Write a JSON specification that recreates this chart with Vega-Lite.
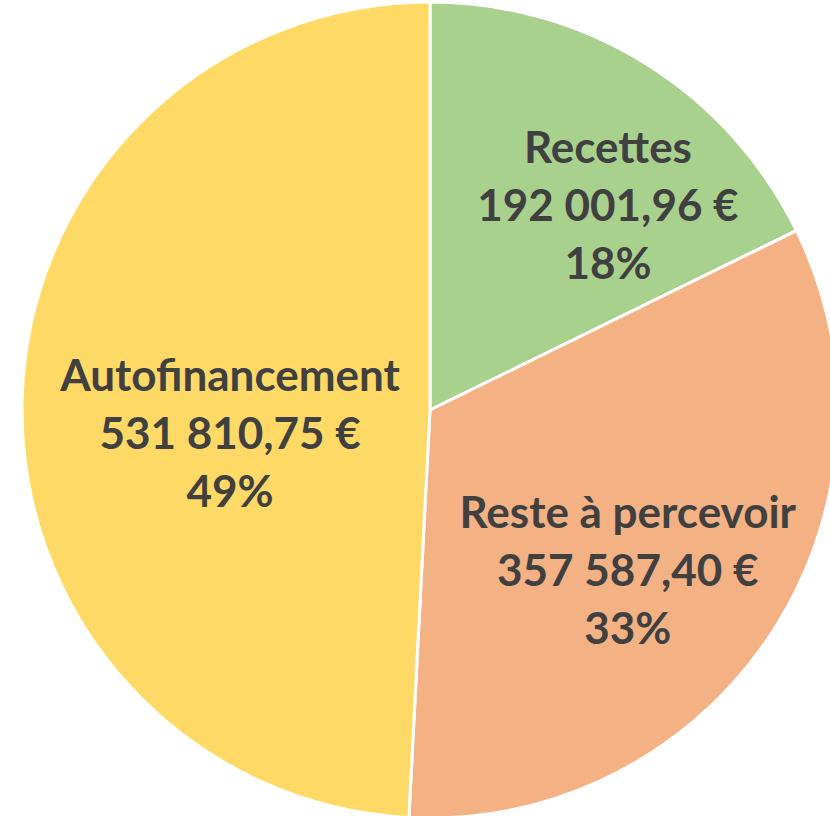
{
  "$schema": "https://vega.github.io/schema/vega-lite/v6.json",
  "width": 800,
  "height": 816,
  "autosize": {"type": "none"},
  "padding": {"left": 30, "top": 2, "right": 0, "bottom": 0},
  "background": "white",
  "view": {"stroke": null},
  "data": {
    "values": [
      {"categorie": "Recettes", "montant": 192001.96, "montant_txt": "192 001,96 €", "pct": "18%"},
      {"categorie": "Reste à percevoir", "montant": 357587.40, "montant_txt": "357 587,40 €", "pct": "33%"},
      {"categorie": "Autofinancement", "montant": 531810.75, "montant_txt": "531 810,75 €", "pct": "49%"}
    ]
  },
  "transform": [
    {"stack": "montant", "groupby": [], "sort": [{"field": "montant", "order": "ascending"}], "as": ["t0", "t1"]},
    {"calculate": "(datum.t0 + datum.t1) / 2", "as": "tmid"},
    {"calculate": "[datum.categorie, datum.montant_txt, datum.pct]", "as": "label"}
  ],
  "layer": [
    {
      "mark": {"type": "arc", "outerRadius": 408, "stroke": "white", "strokeWidth": 3},
      "encoding": {
        "theta": {"field": "t1", "type": "quantitative", "stack": null, "scale": {"zero": true, "nice": false}},
        "theta2": {"field": "t0"},
        "color": {
          "field": "categorie",
          "type": "nominal",
          "scale": {"domain": ["Recettes", "Reste à percevoir", "Autofinancement"], "range": ["#A9D18E", "#F4B183", "#FFD966"]},
          "legend": null
        }
      }
    },
    {
      "transform": [{"filter": "datum.categorie == 'Recettes'"}],
      "mark": {"type": "text", "radius": 306, "dx": 16, "font": "Lato", "fontWeight": "bold", "fontSize": 44, "lineHeight": 58, "color": "#404040", "baseline": "middle", "align": "center"},
      "encoding": {"theta": {"field": "tmid", "type": "quantitative", "stack": null}, "text": {"field": "label"}}
    },
    {
      "transform": [{"filter": "datum.categorie == 'Reste à percevoir'"}],
      "mark": {"type": "text", "radius": 237, "dy": -26, "font": "Lato", "fontWeight": "bold", "fontSize": 44, "lineHeight": 58, "color": "#404040", "baseline": "middle", "align": "center"},
      "encoding": {"theta": {"field": "tmid", "type": "quantitative", "stack": null}, "text": {"field": "label"}}
    },
    {
      "transform": [{"filter": "datum.categorie == 'Autofinancement'"}],
      "mark": {"type": "text", "radius": 200, "dy": -27, "font": "Lato", "fontWeight": "bold", "fontSize": 44, "lineHeight": 58, "color": "#404040", "baseline": "middle", "align": "center"},
      "encoding": {"theta": {"field": "tmid", "type": "quantitative", "stack": null}, "text": {"field": "label"}}
    }
  ]
}
